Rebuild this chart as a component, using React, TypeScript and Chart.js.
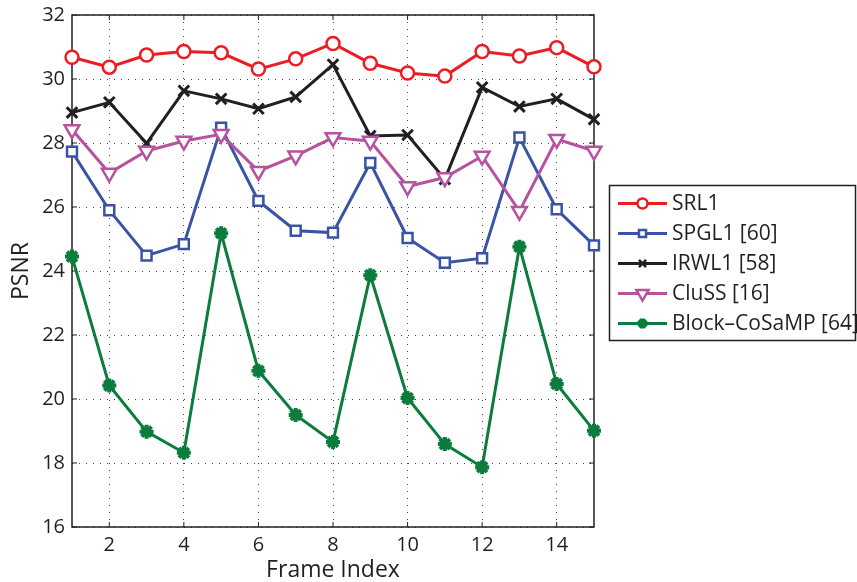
import React, { useEffect, useRef } from 'react';
import { Chart, registerables } from 'chart.js';

Chart.register(...registerables);

const frames = [1, 2, 3, 4, 5, 6, 7, 8, 9, 10, 11, 12, 13, 14, 15];
const xTickValues = [2, 4, 6, 8, 10, 12, 14];
const yTickValues = [16, 18, 20, 22, 24, 26, 28, 30, 32];

const seriesNames = ['SRL1', 'SPGL1 [60]', 'IRWL1 [58]', 'CluSS [16]', 'Block\u2013CoSaMP [64]'];
const srl1 = [30.68, 30.37, 30.75, 30.86, 30.82, 30.31, 30.63, 31.11, 30.49, 30.19, 30.09, 30.86, 30.72, 30.98, 30.38];
const spgl1 = [27.73, 25.9, 24.48, 24.84, 28.48, 26.19, 25.26, 25.2, 27.38, 25.03, 24.26, 24.4, 28.17, 25.93, 24.8];
const irwl1 = [28.95, 29.27, 27.99, 29.63, 29.38, 29.07, 29.44, 30.45, 28.22, 28.25, 26.87, 29.74, 29.14, 29.38, 28.74];
const cluss = [28.42, 27.06, 27.75, 28.06, 28.27, 27.12, 27.6, 28.17, 28.06, 26.64, 26.92, 27.59, 25.87, 28.12, 27.75];
const blockCoSaMP = [24.45, 20.42, 18.98, 18.32, 25.18, 20.88, 19.5, 18.66, 23.87, 20.03, 18.59, 17.87, 24.76, 20.47, 19.01];

const seriesValues = [srl1, spgl1, irwl1, cluss, blockCoSaMP];
const seriesColors = ['#ED1C24', '#3A53A4', '#231F20', '#B7529F', '#0B7C3C'];
const seriesMarkers = ['circle', 'rect', 'crossRot', 'triangleDown', 'star'];
const markerRadius = [6.5, 7, 7.5, 8.5, 7];

const FONT = "'Open Sans', 'DejaVu Sans', sans-serif";
const INK = '#231F20';

function markerPath(ctx: CanvasRenderingContext2D, style: string, x: number, y: number, r: number) {
  ctx.beginPath();
  if (style === 'circle') {
    ctx.arc(x, y, r, 0, Math.PI * 2);
  } else if (style === 'rect') {
    const s = r * Math.SQRT1_2;
    ctx.rect(x - s, y - s, 2 * s, 2 * s);
  } else if (style === 'crossRot') {
    const s = r * Math.SQRT1_2;
    ctx.moveTo(x - s, y - s); ctx.lineTo(x + s, y + s);
    ctx.moveTo(x - s, y + s); ctx.lineTo(x + s, y - s);
  } else if (style === 'triangleDown') {
    const h = r * 0.866;
    ctx.moveTo(x, y + r);
    ctx.lineTo(x - h, y - r / 2);
    ctx.lineTo(x + h, y - r / 2);
    ctx.closePath();
  } else if (style === 'star') {
    const s = r * Math.SQRT1_2;
    ctx.moveTo(x - r, y); ctx.lineTo(x + r, y);
    ctx.moveTo(x, y - r); ctx.lineTo(x, y + r);
    ctx.moveTo(x - s, y - s); ctx.lineTo(x + s, y + s);
    ctx.moveTo(x - s, y + s); ctx.lineTo(x + s, y - s);
  }
}

const framePlugin = {
  id: 'matlabFrame',
  beforeDatasetsDraw(chart: any) {
    const { ctx, chartArea: a, scales } = chart;
    ctx.save();
    ctx.strokeStyle = INK;
    ctx.lineWidth = 1.5;
    ctx.strokeRect(a.left, a.top, a.right - a.left, a.bottom - a.top);
    ctx.lineWidth = 1;
    ctx.beginPath();
    xTickValues.forEach((v) => {
      const px = scales.x.getPixelForValue(v);
      ctx.moveTo(px, a.bottom); ctx.lineTo(px, a.bottom - 5);
      ctx.moveTo(px, a.top); ctx.lineTo(px, a.top + 5);
    });
    yTickValues.forEach((v) => {
      const py = scales.y.getPixelForValue(v);
      ctx.moveTo(a.left, py); ctx.lineTo(a.left + 5, py);
      ctx.moveTo(a.right, py); ctx.lineTo(a.right - 5, py);
    });
    ctx.stroke();
    ctx.restore();
  },
  afterDraw(chart: any) {
    const { ctx } = chart;
    ctx.save();
    const boxL = 609.5, boxT = 185.5, boxW = 246, boxH = 155;
    ctx.fillStyle = '#ffffff';
    ctx.fillRect(boxL, boxT, boxW, boxH);
    ctx.strokeStyle = INK;
    ctx.lineWidth = 1.5;
    ctx.strokeRect(boxL, boxT, boxW, boxH);
    ctx.font = `21px ${FONT}`;
    ctx.textBaseline = 'middle';
    ctx.textAlign = 'left';
    seriesNames.forEach((name, i) => {
      const y = 203.5 + i * 30;
      ctx.strokeStyle = seriesColors[i];
      ctx.lineWidth = 3;
      ctx.beginPath();
      ctx.moveTo(618, y); ctx.lineTo(667, y);
      ctx.stroke();
      markerPath(ctx, seriesMarkers[i], 642.5, y, seriesMarkers[i] === 'triangleDown' ? 7 : 5);
      if (seriesMarkers[i] !== 'crossRot' && seriesMarkers[i] !== 'star') {
        ctx.fillStyle = '#ffffff';
        ctx.fill();
      }
      ctx.lineWidth = seriesMarkers[i] === 'star' ? 4 : 2.5;
      ctx.stroke();
      ctx.fillStyle = INK;
      ctx.fillText(name, 672, y + 1);
    });
    ctx.restore();
  },
};

export default function App() {
  const canvasRef = useRef<HTMLCanvasElement | null>(null);

  useEffect(() => {
    if (!canvasRef.current) return;
    const datasets = seriesNames.map((name, i) => ({
      label: name,
      data: frames.map((f, j) => ({ x: f, y: seriesValues[i][j] })),
      borderColor: seriesColors[i],
      backgroundColor: seriesMarkers[i] === 'star' ? seriesColors[i] : '#ffffff',
      borderWidth: 3,
      pointStyle: seriesMarkers[i] === 'triangleDown' ? 'triangle' : seriesMarkers[i],
      rotation: seriesMarkers[i] === 'triangleDown' ? 180 : 0,
      pointRadius: markerRadius[i],
      pointBorderWidth: seriesMarkers[i] === 'star' ? 4 : seriesMarkers[i] === 'crossRot' ? 3 : 2.5,
      pointBorderColor: seriesColors[i],
      pointBackgroundColor: seriesMarkers[i] === 'star' ? seriesColors[i] : '#ffffff',
      tension: 0,
      clip: false as any,
      order: seriesNames.length - i,
    }));

    const chart = new Chart(canvasRef.current, {
      type: 'line',
      data: { datasets },
      options: {
        animation: false,
        responsive: false,
        maintainAspectRatio: false,
        layout: { padding: { left: 0, right: 263, top: 15, bottom: 0 } },
        plugins: { legend: { display: false }, tooltip: { enabled: false } },
        scales: {
          x: {
            type: 'linear',
            min: 1,
            max: 15,
            afterBuildTicks: (s: any) => { s.ticks = xTickValues.map((v) => ({ value: v })); },
            afterFit: (s: any) => { s.height = 55; s.paddingLeft = 0; s.paddingRight = 0; },
            grid: { color: '#444', lineWidth: 1, drawTicks: false },
            border: { display: false, dash: [1, 6] },
            ticks: { color: INK, font: { family: FONT, size: 20 }, padding: 6, maxRotation: 0, autoSkip: false },
            title: { display: true, text: 'Frame Index', color: INK, font: { family: FONT, size: 23, lineHeight: 1 }, padding: { top: 0, bottom: 0 } },
          },
          y: {
            type: 'linear',
            min: 16,
            max: 32,
            afterBuildTicks: (s: any) => { s.ticks = yTickValues.map((v) => ({ value: v })); },
            afterFit: (s: any) => { s.width = 72; s.paddingTop = 0; s.paddingBottom = 0; },
            grid: { color: '#444', lineWidth: 1, drawTicks: false },
            border: { display: false, dash: [1, 6] },
            ticks: { color: INK, font: { family: FONT, size: 20 }, padding: 7 },
            title: { display: true, text: 'PSNR', color: INK, font: { family: FONT, size: 23, lineHeight: 1 }, padding: { top: 10, bottom: 0 } },
          },
        },
      },
      plugins: [framePlugin],
    });
    return () => chart.destroy();
  }, []);

  return (
    <div style={{ position: 'fixed', left: 0, top: 0, width: 857, height: 582, background: '#fff' }}>
      <canvas ref={canvasRef} width={857} height={582} style={{ display: 'block' }} />
    </div>
  );
}
